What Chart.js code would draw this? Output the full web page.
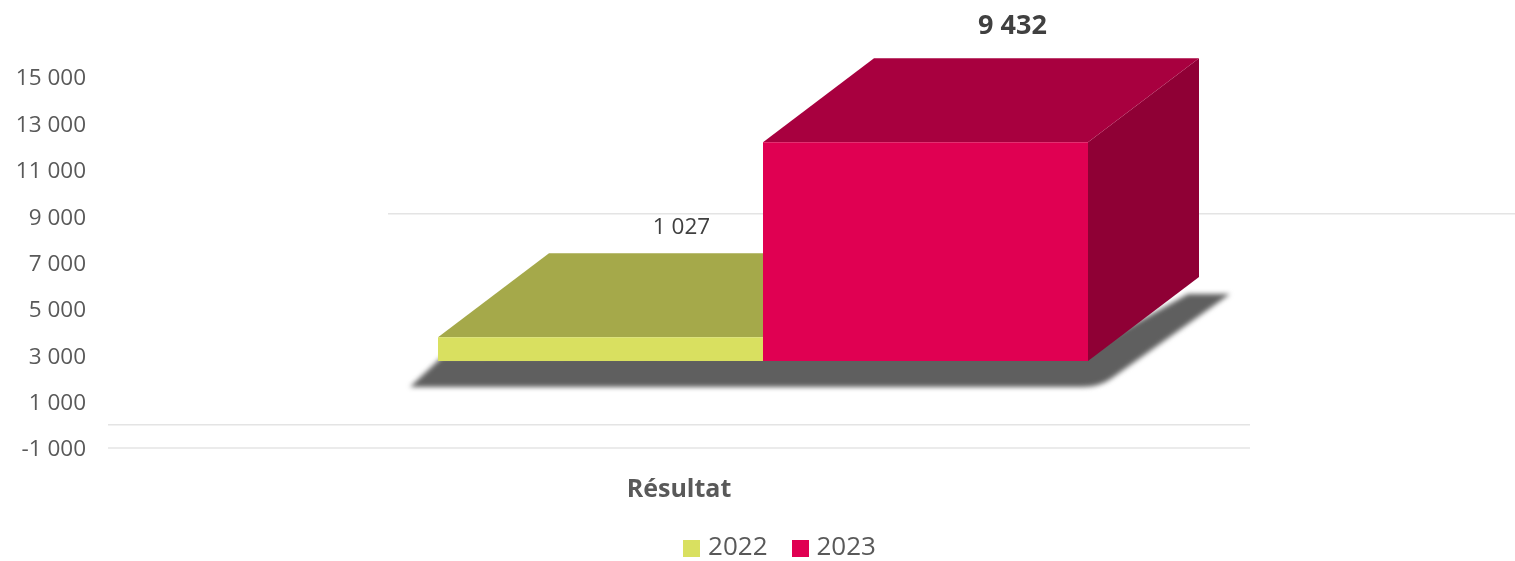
<!DOCTYPE html>
<html lang="fr">
<head>
<meta charset="utf-8">
<style>html,body{margin:0;padding:0;background:#fff}canvas{display:block}</style>
<script src="https://cdn.jsdelivr.net/npm/chart.js@4"></script>
</head>
<body>
<canvas id="c" width="1515" height="561"></canvas>
<script>
const categories = ['Résultat'];
const seriesNames = ['2022', '2023'];
const values2022 = [1027];
const values2023 = [9432];
const floorValue = 2750;
const yMin = -1000, yMax = 15000, yStep = 2000;
const gridLevels = [-1000, 0, 9100];

const FONT = '"Open Sans", sans-serif';
const frontColors = ['#D9E060', '#E00052'];
const topColors = ['#A5A94A', '#A8003F'];
const sideColors = ['#7F8238', '#8F0035'];
const gridSpans = [[108, 1250], [108, 1250], [388, 1515]];
const DX = 111, DY = 84;
const fmt = v => String(v).replace(/\B(?=(\d{3})+$)/g, ' ');

function swatch(color) {
  const s = document.createElement('canvas');
  s.width = 17; s.height = 17;
  const g = s.getContext('2d');
  g.fillStyle = color; g.fillRect(0, 0, 17, 17);
  return s;
}

const solid3d = {
  id: 'solid3d',
  afterLayout(chart) {
    const l = chart.legend;
    l.left += 73; l.right += 73;
    l.top = 506; l.bottom = 562;
  },
  beforeDatasetsDraw(chart) {
    const ctx = chart.ctx;
    const y = chart.scales.y;
    ctx.save();
    ctx.strokeStyle = '#E4E4E4';
    ctx.lineWidth = 1.5;
    gridLevels.forEach((lv, i) => {
      const p = y.getPixelForValue(lv);
      ctx.beginPath();
      ctx.moveTo(gridSpans[i][0], p);
      ctx.lineTo(gridSpans[i][1], p);
      ctx.stroke();
    });
    const a = chart.getDatasetMeta(0).data[0];
    const b = chart.getDatasetMeta(1).data[0];
    const L = a.x - a.width / 2, R = b.x + b.width / 2, B = a.base;
    // cast shadow on the floor
    ctx.filter = 'blur(2.5px)';
    ctx.fillStyle = '#5F5F5F';
    ctx.beginPath();
    ctx.moveTo(L + 4, B - 4);
    ctx.lineTo(L - 28, B + 26);
    ctx.lineTo(R - 6, B + 26);
    ctx.quadraticCurveTo(R + 12, B + 26, R + 24, B + 17);
    ctx.lineTo(R + 142, B - 67);
    ctx.lineTo(R + 100, B - 67);
    ctx.lineTo(R - 6, B - 8);
    ctx.closePath();
    ctx.fill();
    ctx.filter = 'none';
    // receding faces
    [a, b].forEach((bar, i) => {
      const l = bar.x - bar.width / 2, r = bar.x + bar.width / 2, t = bar.y, bs = bar.base;
      ctx.fillStyle = sideColors[i];
      ctx.beginPath();
      ctx.moveTo(r, t); ctx.lineTo(r + DX, t - DY); ctx.lineTo(r + DX, bs - DY); ctx.lineTo(r, bs);
      ctx.closePath(); ctx.fill();
      ctx.fillStyle = topColors[i];
      ctx.beginPath();
      ctx.moveTo(l, t); ctx.lineTo(l + DX, t - DY); ctx.lineTo(r + DX, t - DY); ctx.lineTo(r, t);
      ctx.closePath(); ctx.fill();
    });
    ctx.restore();
  },
  afterDatasetsDraw(chart) {
    const ctx = chart.ctx;
    const a = chart.getDatasetMeta(0).data[0];
    const b = chart.getDatasetMeta(1).data[0];
    ctx.save();
    ctx.textAlign = 'center';
    ctx.textBaseline = 'middle';
    ctx.fillStyle = '#404040';
    ctx.font = '22.5px ' + FONT;
    ctx.fillText(fmt(values2022[0]), a.x + 81, a.y - DY - 26);
    ctx.font = 'bold 27px ' + FONT;
    ctx.fillText(fmt(values2023[0]), b.x + 87, b.y - DY - 32);
    ctx.restore();
  }
};

new Chart(document.getElementById('c'), {
  type: 'bar',
  plugins: [solid3d],
  data: {
    labels: categories,
    datasets: [
      { label: seriesNames[0], data: values2022.map(v => [floorValue, floorValue + v]), backgroundColor: frontColors[0] },
      { label: seriesNames[1], data: values2023.map(v => [floorValue, floorValue + v]), backgroundColor: frontColors[1] }
    ]
  },
  options: {
    responsive: false,
    animation: false,
    layout: { padding: { top: 77, right: 97, left: 0, bottom: -20 } },
    datasets: { bar: { barPercentage: 1, categoryPercentage: 650 / 1310 } },
    plugins: {
      tooltip: { enabled: false },
      legend: {
        position: 'bottom',
        labels: {
          usePointStyle: true,
          pointStyleWidth: 7,
          padding: 29,
          color: '#595959',
          font: { family: FONT, size: 26 },
          generateLabels: chart => chart.data.datasets.map((d, i) => ({
            text: d.label,
            datasetIndex: i,
            pointStyle: swatch(frontColors[i]),
            fontColor: '#595959',
            lineWidth: 0
          }))
        }
      }
    },
    scales: {
      x: {
        grid: { display: false, tickLength: 0 },
        border: { display: false },
        ticks: {
          maxRotation: 0, autoSkip: false, labelOffset: -84, padding: 27,
          color: '#595959', font: { family: FONT, size: 25, weight: 'bold' }
        },
        afterFit(s) { s.height = 68; s.paddingLeft = 0; s.paddingRight = 0; }
      },
      y: {
        min: yMin, max: yMax,
        grid: { display: false, tickLength: 0 },
        border: { display: false },
        ticks: {
          stepSize: yStep, padding: 22, labelOffset: 2,
          color: '#595959', font: { family: FONT, size: 22.5 },
          callback: v => fmt(v)
        },
        afterFit(s) { s.width = 108; s.paddingTop = 0; s.paddingBottom = 0; }
      }
    }
  }
});
</script>
</body>
</html>
